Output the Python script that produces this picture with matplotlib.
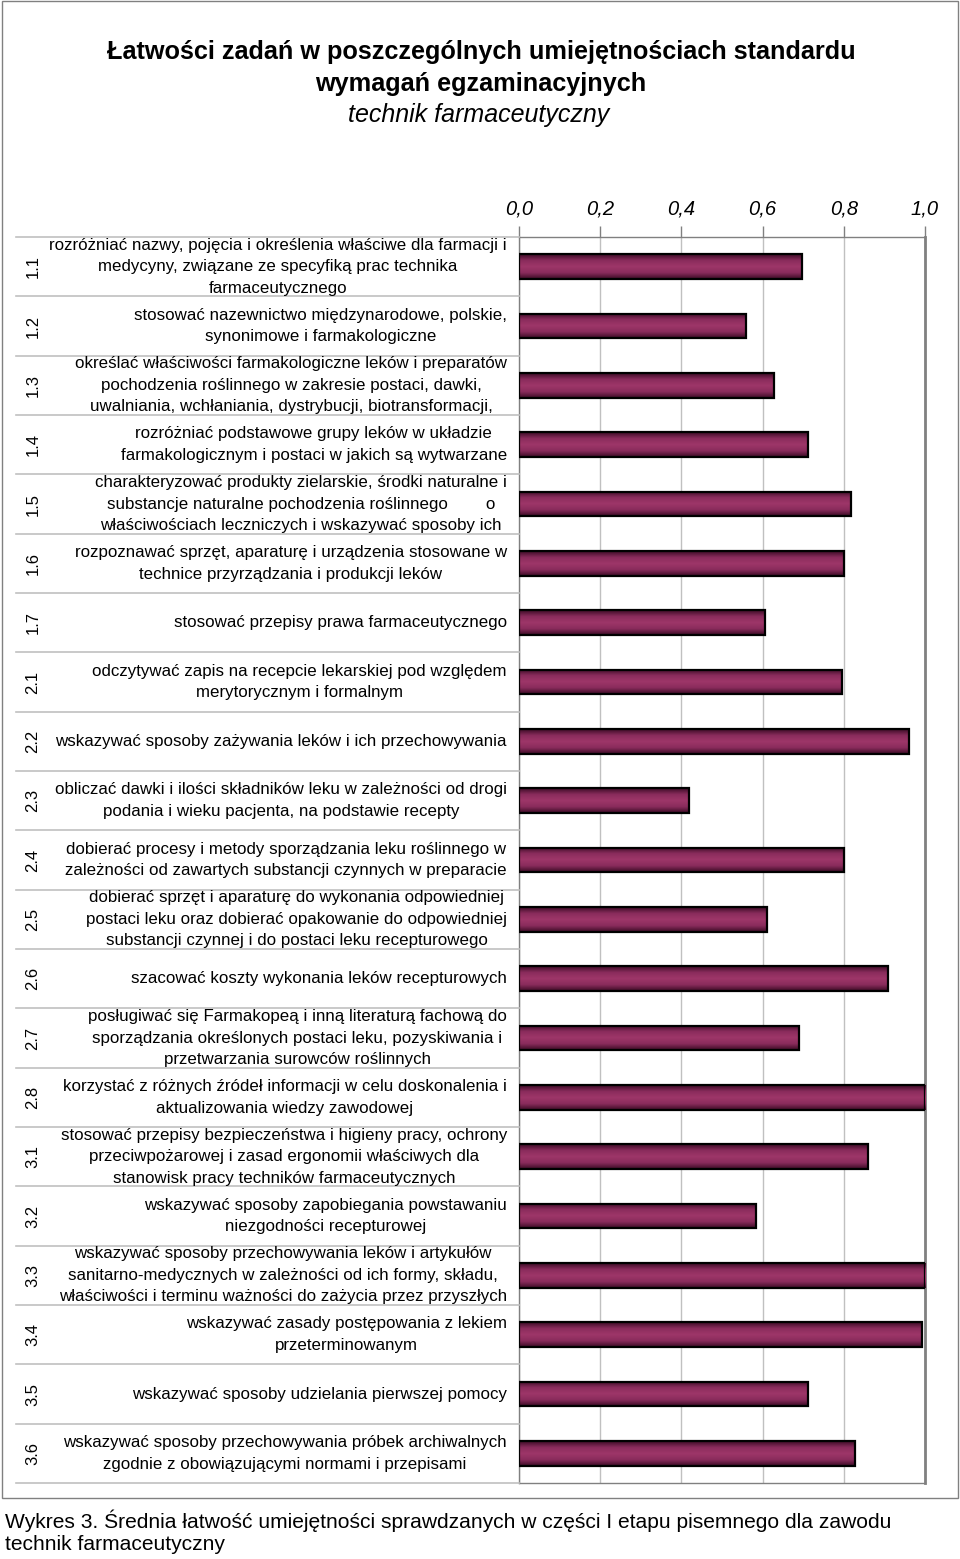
import numpy as np
import matplotlib
matplotlib.use('Agg')
import matplotlib.pyplot as plt
from matplotlib.colors import LinearSegmentedColormap
from matplotlib.transforms import blended_transform_factory
from matplotlib.lines import Line2D
from matplotlib.patches import Rectangle

plt.rcParams['font.family'] = ['Liberation Sans', 'DejaVu Sans']

codes = ['1.1', '1.2', '1.3', '1.4', '1.5', '1.6', '1.7',
         '2.1', '2.2', '2.3', '2.4', '2.5', '2.6', '2.7', '2.8',
         '3.1', '3.2', '3.3', '3.4', '3.5', '3.6']

labels = [
    "rozróżniać nazwy, pojęcia i określenia właściwe dla farmacji i\nmedycyny, związane ze specyfiką prac technika\nfarmaceutycznego",
    "stosować nazewnictwo międzynarodowe, polskie,\nsynonimowe i farmakologiczne",
    "określać właściwości farmakologiczne leków i preparatów\npochodzenia roślinnego w zakresie postaci, dawki,\nuwalniania, wchłaniania, dystrybucji, biotransformacji,",
    "rozróżniać podstawowe grupy leków w układzie\nfarmakologicznym i postaci w jakich są wytwarzane",
    "charakteryzować produkty zielarskie, środki naturalne i\nsubstancje naturalne pochodzenia roślinnego        o\nwłaściwościach leczniczych i wskazywać sposoby ich",
    "rozpoznawać sprzęt, aparaturę i urządzenia stosowane w\ntechnice przyrządzania i produkcji leków",
    "stosować przepisy prawa farmaceutycznego",
    "odczytywać zapis na recepcie lekarskiej pod względem\nmerytorycznym i formalnym",
    "wskazywać sposoby zażywania leków i ich przechowywania",
    "obliczać dawki i ilości składników leku w zależności od drogi\npodania i wieku pacjenta, na podstawie recepty",
    "dobierać procesy i metody sporządzania leku roślinnego w\nzależności od zawartych substancji czynnych w preparacie",
    "dobierać sprzęt i aparaturę do wykonania odpowiedniej\npostaci leku oraz dobierać opakowanie do odpowiedniej\nsubstancji czynnej i do postaci leku recepturowego",
    "szacować koszty wykonania leków recepturowych",
    "posługiwać się Farmakopeą i inną literaturą fachową do\nsporządzania określonych postaci leku, pozyskiwania i\nprzetwarzania surowców roślinnych",
    "korzystać z różnych źródeł informacji w celu doskonalenia i\naktualizowania wiedzy zawodowej",
    "stosować przepisy bezpieczeństwa i higieny pracy, ochrony\nprzeciwpożarowej i zasad ergonomii właściwych dla\nstanowisk pracy techników farmaceutycznych",
    "wskazywać sposoby zapobiegania powstawaniu\nniezgodności recepturowej",
    "wskazywać sposoby przechowywania leków i artykułów\nsanitarno-medycznych w zależności od ich formy, składu,\nwłaściwości i terminu ważności do zażycia przez przyszłych",
    "wskazywać zasady postępowania z lekiem\nprzeterminowanym",
    "wskazywać sposoby udzielania pierwszej pomocy",
    "wskazywać sposoby przechowywania próbek archiwalnych\nzgodnie z obowiązującymi normami i przepisami",
]

values = [0.696, 0.558, 0.627, 0.712, 0.817, 0.801, 0.606,
          0.795, 0.961, 0.419, 0.800, 0.610, 0.908, 0.689, 1.000,
          0.860, 0.584, 1.000, 0.992, 0.712, 0.827]

xticks = [0.0, 0.2, 0.4, 0.6, 0.8, 1.0]
xtick_labels = ['0,0', '0,2', '0,4', '0,6', '0,8', '1,0']

W, H = 960, 1559
fig = plt.figure(figsize=(W / 100, H / 100), dpi=100)

# plot area in pixel coords
left, right, top, bottom = 519, 925, 237, 1483
ax = fig.add_axes([left / W, 1 - bottom / H, (right - left) / W, (bottom - top) / H])

n = len(values)
y = np.arange(n)
bars = ax.barh(y, values, height=0.42, color='#993366', edgecolor='black', linewidth=1.6, zorder=3)

# vertical gradient inside bars (dark edges, lighter middle)
cmap = LinearSegmentedColormap.from_list('bar', ['#3d0c26', '#8a2c5c', '#9e3669', '#8a2c5c', '#3d0c26'])
grad = np.linspace(0, 1, 64).reshape(-1, 1)
for b in bars:
    x0, y0, w, h = b.get_x(), b.get_y(), b.get_width(), b.get_height()
    im = ax.imshow(grad, cmap=cmap, aspect='auto', extent=(x0, x0 + w, y0 + h, y0),
                   zorder=3.5, interpolation='bilinear')
    im.set_clip_path(b)
    b.set_facecolor('none')
    b.set_zorder(4)

ax.set_xlim(0, 1)
ax.set_ylim(n - 0.5, -0.5)
ax.set_yticks([])
ax.xaxis.tick_top()
ax.set_xticks(xticks)
ax.set_xticklabels(xtick_labels, fontsize=14.5, style='italic')
ax.tick_params(axis='x', direction='out', length=8, width=1, color='#808080', pad=5.5)
ax.grid(axis='x', color='#c0c0c0', linewidth=1, zorder=0)
for s in ax.spines.values():
    s.set_color('#808080')
    s.set_linewidth(1)
ax.spines['right'].set_linewidth(2)

# labels on the left
tr = blended_transform_factory(fig.transFigure, ax.transData)
for i in range(n):
    fig.text(507 / W, i, labels[i], transform=tr, ha='right', va='center',
             multialignment='center', fontsize=12.2, linespacing=1.55)
    fig.text(33 / W, i, codes[i], transform=tr, ha='center', va='center',
             rotation=90, fontsize=12)
for i in range(n + 1):
    fig.add_artist(Line2D([16 / W, left / W], [i - 0.5, i - 0.5], transform=tr,
                          color='#c0c0c0', linewidth=1.2))

# outer frame
fig.add_artist(Rectangle((2 / W, 1 - 1498 / H), 956 / W, 1498 / H - 0.0005,
                         transform=fig.transFigure, fill=False, edgecolor='#808080', linewidth=1))

# titles
fig.text(481 / W, 1 - 52 / H, 'Łatwości zadań w poszczególnych umiejętnościach standardu',
         ha='center', va='center', fontsize=18.2, fontweight='bold')
fig.text(481 / W, 1 - 84 / H, 'wymagań egzaminacyjnych',
         ha='center', va='center', fontsize=18.2, fontweight='bold')
fig.text(479 / W, 1 - 115 / H, 'technik farmaceutyczny',
         ha='center', va='center', fontsize=18, style='italic')

# caption
fig.text(5 / W, 1 - 1521 / H, 'Wykres 3. Średnia łatwość umiejętności sprawdzanych w części I etapu pisemnego dla zawodu',
         ha='left', va='center', fontsize=15.1)
fig.text(5 / W, 1 - 1544 / H, 'technik farmaceutyczny', ha='left', va='center', fontsize=15.1)

fig.savefig('out.png', dpi=100)
